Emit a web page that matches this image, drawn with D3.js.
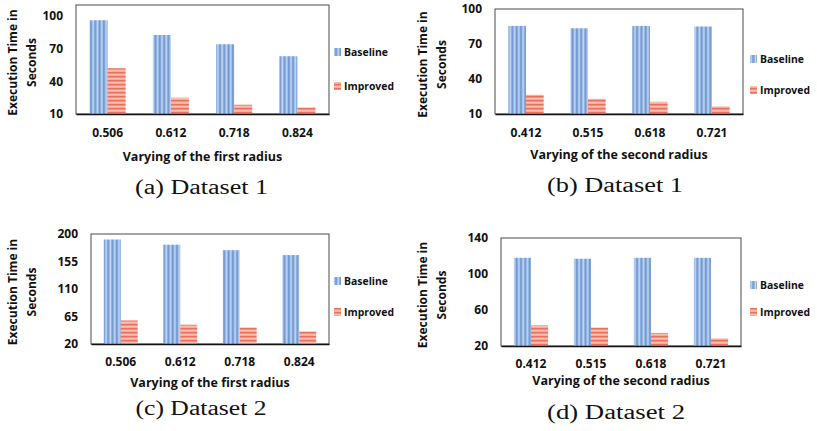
<!DOCTYPE html>
<html>
<head>
<meta charset="utf-8">
<script src="https://cdn.jsdelivr.net/npm/d3@7"></script>
<style>
  html, body { margin: 0; padding: 0; background: #fff; }
  svg { display: block; }
  .lbl { font-family: "Open Sans", "Noto Sans", sans-serif; font-weight: 700; fill: #111; }
  .cap { font-family: "Liberation Serif", "DejaVu Serif", serif; fill: #111; }
</style>
</head>
<body>
<svg id="chart" width="817" height="431"></svg>
<script>
// ---------- data ----------
const seriesNames = ["Baseline", "Improved"];
const catsFirstRadius = ["0.506", "0.612", "0.718", "0.824"];
const catsSecondRadius = ["0.412", "0.515", "0.618", "0.721"];

const aBaseline = [96, 82.5, 74, 63];
const aImproved = [52, 25, 18.5, 16];
const bBaseline = [85.5, 83.5, 85.5, 85];
const bImproved = [26.5, 23, 20.5, 16.5];
const cBaseline = [191, 182.5, 173.5, 165.5];
const cImproved = [58.5, 51.5, 47, 40.5];
const dBaseline = [118, 117, 118, 118];
const dImproved = [43, 40.5, 34.5, 28.5];

const ticksA = [10, 40, 70, 100];
const ticksB = [10, 40, 70, 100];
const ticksC = [20, 65, 110, 155, 200];
const ticksD = [20, 60, 100, 140];

const yTitleLines = ["Execution Time in", "Seconds"];
const xTitleFirst = "Varying of the first radius";
const xTitleSecond = "Varying of the second radius";
const captions = ["(a) Dataset 1", "(b) Dataset 1", "(c) Dataset 2", "(d) Dataset 2"];

// ---------- layout ----------
const legendTextWidths = [44, 50];
const panels = [
  { cats: catsFirstRadius, vals: [aBaseline, aImproved], ticks: ticksA, domain: [10, 110],
    x0: 76, x1: 329, y0: 5, y1: 114, xTitle: xTitleFirst, caption: captions[0],
    tickY: 137, xTitleY: 161, capX: 201.5, capY: 194, capW: 133,
    ytX: [15, 34], legX: 334, legY: [52, 86] },
  { cats: catsSecondRadius, vals: [bBaseline, bImproved], ticks: ticksB, domain: [10, 100],
    x0: 495, x1: 743, y0: 9, y1: 114, xTitle: xTitleSecond, caption: captions[1],
    tickY: 137, xTitleY: 159, capX: 615, capY: 192, capW: 136,
    ytX: [425, 444], legX: 750, legY: [59, 90] },
  { cats: catsFirstRadius, vals: [cBaseline, cImproved], ticks: ticksC, domain: [20, 200],
    x0: 91, x1: 329, y0: 234, y1: 344, xTitle: xTitleFirst, caption: captions[2],
    tickY: 366, xTitleY: 387, capX: 201, capY: 415, capW: 131,
    ytX: [15, 34], legX: 334, legY: [281, 312] },
  { cats: catsSecondRadius, vals: [dBaseline, dImproved], ticks: ticksD, domain: [20, 140],
    x0: 501, x1: 741, y0: 238, y1: 346, xTitle: xTitleSecond, caption: captions[3],
    tickY: 368, xTitleY: 385, capX: 616, capY: 419, capW: 138,
    ytX: [425, 444], legX: 750, legY: [285, 312] }
];

const svg = d3.select("#chart");

// ---------- patterns ----------
const defs = svg.append("defs");
const pb = defs.append("pattern").attr("id", "patBlue").attr("patternUnits", "userSpaceOnUse")
  .attr("width", 4.3).attr("height", 4);
pb.append("rect").attr("width", 4.3).attr("height", 4).attr("fill", "#98b8e4");
pb.append("rect").attr("x", 0).attr("width", 1.4).attr("height", 4).attr("fill", "#6f97d1");
pb.append("rect").attr("x", 2.3).attr("width", 1.1).attr("height", 4).attr("fill", "#c4d6f1");

const pr = defs.append("pattern").attr("id", "patRed").attr("patternUnits", "userSpaceOnUse")
  .attr("width", 4).attr("height", 4);
pr.append("rect").attr("width", 4).attr("height", 4).attr("fill", "#f3a293");
pr.append("rect").attr("y", 0).attr("width", 4).attr("height", 1.3).attr("fill", "#e96f5f");
pr.append("rect").attr("y", 2.3).attr("width", 4).attr("height", 1).attr("fill", "#f9cbc0");

const fills = ["url(#patBlue)", "url(#patRed)"];

panels.forEach(p => {
  const g = svg.append("g");
  const y = d3.scaleLinear().domain(p.domain).range([p.y1, p.y0]);
  const x = d3.scaleBand().domain(p.cats).range([p.x0, p.x1]).paddingInner(0.43).paddingOuter(0.215);
  const xs = d3.scaleBand().domain(seriesNames).range([0, x.bandwidth()]).padding(0);

  // box
  g.append("rect").attr("x", p.x0).attr("y", p.y0).attr("width", p.x1 - p.x0).attr("height", p.y1 - p.y0)
    .attr("fill", "none").attr("stroke", "#4a4a4a").attr("stroke-width", 1);

  // bars
  seriesNames.forEach((s, si) => {
    g.selectAll(null).data(p.cats).enter().append("rect")
      .attr("x", c => x(c) + xs(s))
      .attr("width", xs.bandwidth())
      .attr("y", (c, i) => y(p.vals[si][i]))
      .attr("height", (c, i) => y(p.domain[0]) - y(p.vals[si][i]))
      .attr("fill", fills[si]);
  });

  // x axis line
  const xAxis = d3.axisBottom(x).tickSize(0).tickPadding(0);
  const xg = g.append("g").attr("transform", `translate(0,${p.y1})`).call(xAxis);
  xg.select(".domain").attr("stroke", "#111").attr("stroke-width", 1.6);
  xg.selectAll(".tick text").attr("class", "lbl").attr("font-size", 12)
    .attr("y", p.tickY - p.y1).attr("dy", 0).attr("fill", "#111");

  // y axis labels
  const yAxis = d3.axisLeft(y).tickValues(p.ticks).tickSize(0).tickPadding(13).tickFormat(d3.format("d"));
  const yg = g.append("g").attr("transform", `translate(${p.x0},0)`).call(yAxis);
  yg.select(".domain").remove();
  yg.selectAll(".tick text").attr("class", "lbl").attr("font-size", 12).attr("fill", "#111");

  // y title
  const cy = (p.y0 + p.y1) / 2 + 3;
  yTitleLines.forEach((t, i) => {
    g.append("text").attr("class", "lbl").attr("font-size", 12)
      .attr("text-anchor", "middle")
      .attr("transform", `translate(${p.ytX[i] + 2},${cy}) rotate(-90)`)
      .text(t);
  });

  // x title
  g.append("text").attr("class", "lbl").attr("font-size", 12.5)
    .attr("text-anchor", "middle").attr("x", (x(p.cats[0]) + x(p.cats[3]) + x.bandwidth()) / 2)
    .attr("y", p.xTitleY).text(p.xTitle);

  // legend
  seriesNames.forEach((s, si) => {
    g.append("rect").attr("x", p.legX).attr("y", p.legY[si] - 4).attr("width", 7).attr("height", 8)
      .attr("fill", fills[si]);
    g.append("text").attr("class", "lbl").attr("font-size", 11)
      .attr("x", p.legX + 10).attr("y", p.legY[si]).attr("dy", "0.36em")
      .attr("textLength", legendTextWidths[si]).attr("lengthAdjust", "spacingAndGlyphs")
      .text(s);
  });

  // caption
  g.append("text").attr("class", "cap").attr("font-size", 20)
    .attr("text-anchor", "middle").attr("x", p.capX).attr("y", p.capY)
    .attr("textLength", p.capW).attr("lengthAdjust", "spacingAndGlyphs")
    .text(p.caption);
});
</script>
</body>
</html>
